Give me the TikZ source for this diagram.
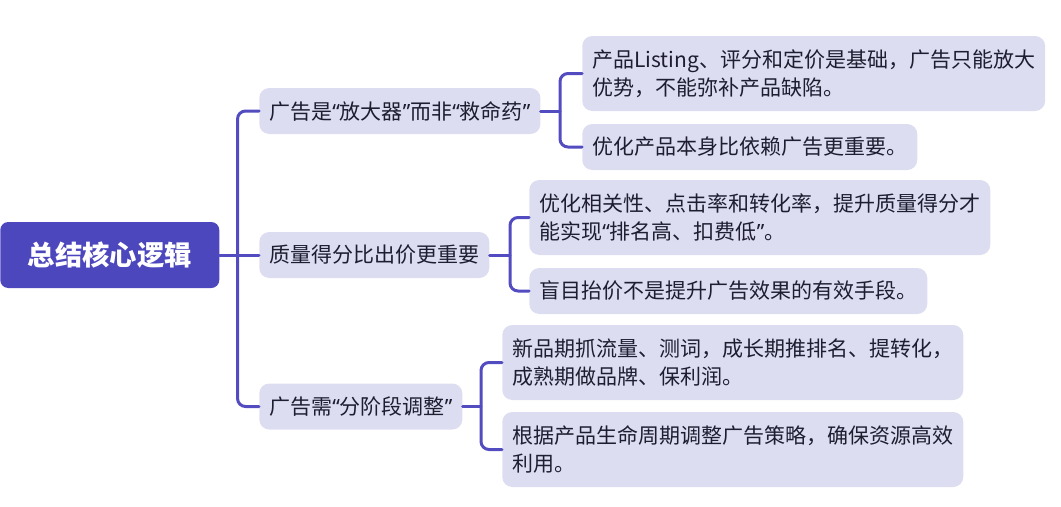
\documentclass[tikz,border=0pt]{standalone}
\usepackage{fontspec}
\setmainfont{Noto Sans CJK SC}
\newfontfamily\quotefont{Noto Sans}
\usepackage{tikz}

\definecolor{trunkblue}{RGB}{82,76,192}
\definecolor{rootfill}{RGB}{76,71,189}
\definecolor{boxfill}{RGB}{221,221,242}
\definecolor{ink}{RGB}{30,30,48}

% narrow quote marks
\newcommand{\qopen}{{\quotefont “}}
\newcommand{\qclose}{{\quotefont ”}}

\begin{document}
\begin{tikzpicture}[x=0.75pt,y=-0.75pt,line cap=round,line join=round,
    rootbox/.style={fill=rootfill,text=white,rounded corners=6pt,anchor=west,inner sep=0pt,
      minimum width=164.25pt,minimum height=49.5pt,font=\fontsize{20.5}{24}\selectfont\bfseries},
    topicbox/.style={fill=boxfill,text=ink,rounded corners=7.5pt,anchor=west,inner xsep=7.5pt,
      inner ysep=0pt,minimum height=34.5pt,align=left,font=\fontsize{15.75}{21}\selectfont},
    twoline/.style={minimum height=56.25pt},
    link/.style={draw=trunkblue,line width=2.25pt,rounded corners=6pt}]
        \useasboundingbox (0,0) rectangle (1061,507);
        % root
        \node[rootbox] (core) at (0,255) {总结核心逻辑};
        % first level
        \node[topicbox] (amp) at (259,111) {广告是\qopen 放大器\qclose 而非\qopen 救命药\qclose};
        \node[topicbox] (qs) at (259,255) {质量得分比出价更重要};
        \node[topicbox] (stage) at (259,406.5) {广告需\qopen 分阶段调整\qclose};
        % leaves
        \node[topicbox,twoline] (amp1) at (582,73.5) {产品Listing、评分和定价是基础，广告只能放大\\优势，不能弥补产品缺陷。};
        \node[topicbox] (amp2) at (582,147) {优化产品本身比依赖广告更重要。};
        \node[topicbox,twoline] (qs1) at (529,217.5) {优化相关性、点击率和转化率，提升质量得分才\\能实现\qopen 排名高、扣费低\qclose 。};
        \node[topicbox] (qs2) at (529,291) {盲目抬价不是提升广告效果的有效手段。};
        \node[topicbox,twoline] (stage1) at (502,362.5) {新品期抓流量、测词，成长期推排名、提转化，\\成熟期做品牌、保利润。};
        \node[topicbox,twoline] (stage2) at (502,449.5) {根据产品生命周期调整广告策略，确保资源高效\\利用。};
        % forks
        \coordinate (forkA) at (560,111);
        \coordinate (forkB) at (510,255);
        \coordinate (forkC) at (481,406.5);
        % connectors
        \draw[link] (core.east) -- ++(18,0) coordinate (fork0) -- (qs.west);
        \draw[link] (amp.west) -| (fork0) |- (stage.west);
        \draw[link] (amp.east) -- (forkA);
        \draw[link] (amp1.west) -| (forkA) |- (amp2.west);
        \draw[link] (qs.east) -- (forkB);
        \draw[link] (qs1.west) -| (forkB) |- (qs2.west);
        \draw[link] (stage.east) -- (forkC);
        \draw[link] (stage1.west) -| (forkC) |- (stage2.west);
      \end{tikzpicture}
\end{document}
